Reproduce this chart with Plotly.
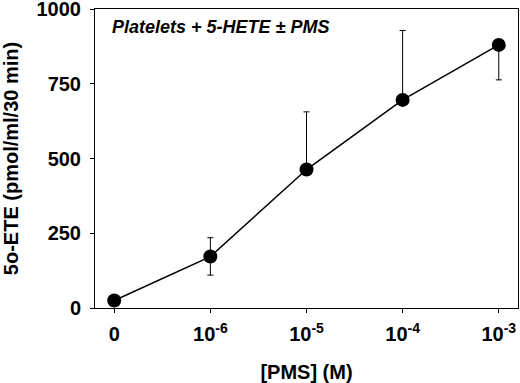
import plotly.graph_objects as go

categories = ["0", "1e-6", "1e-5", "1e-4", "1e-3"]
tick_labels = ["0", "10<sup>-6</sup>", "10<sup>-5</sup>", "10<sup>-4</sup>", "10<sup>-3</sup>"]
values = [25, 172, 463, 696, 880]
err_plus = [0, 63, 193, 232, 0]
err_minus = [0, 62, 0, 0, 117]
y_ticks = [0, 250, 500, 750, 1000]

x_pos = list(range(len(categories)))
font = "Liberation Sans, Arial, sans-serif"

fig = go.Figure()
fig.add_trace(go.Scatter(
    x=x_pos, y=values, mode="lines+markers",
    line=dict(color="black", width=1.5),
    marker=dict(color="black", size=14),
    error_y=dict(type="data", array=err_plus, arrayminus=err_minus,
                 symmetric=False, color="black", thickness=1, width=3),
    showlegend=False,
))

fig.update_layout(
    width=520, height=383,
    margin=dict(l=95, r=2, t=9, b=75, autoexpand=False),
    plot_bgcolor="white", paper_bgcolor="white",
    font=dict(family=font, color="black"),
    xaxis=dict(
        range=[-0.2, 4.2], tickmode="array", tickvals=x_pos, ticktext=tick_labels,
        showgrid=False, zeroline=False, showline=True, linecolor="black", linewidth=1,
        mirror=True, ticks="outside", ticklen=4, tickcolor="black",
        tickfont=dict(size=20, family=font, weight="bold"),
        ticklabeloverflow="allow", automargin=False, ticklabelstandoff=4,
        title=dict(text="<b>[PMS] (M)</b>", font=dict(size=20, family=font), standoff=22),
    ),
    yaxis=dict(
        range=[0, 1000], tickmode="array", tickvals=y_ticks,
        showgrid=False, zeroline=False, showline=True, linecolor="black", linewidth=1,
        mirror=True, ticks="outside", ticklen=4, tickcolor="black",
        tickfont=dict(size=20, family=font, weight="bold"),
        ticklabeloverflow="allow", automargin=False, ticklabelstandoff=5,
        title=dict(text="<b>5o-ETE (pmol/ml/30 min)</b>", font=dict(size=20, family=font), standoff=16),
    ),
    annotations=[dict(
        text="<b><i>Platelets + 5-HETE ± PMS</i></b>", x=0.035, y=0.98,
        xref="paper", yref="paper", xanchor="left", yanchor="top",
        showarrow=False, font=dict(size=18, family=font, color="black"),
    )],
)

fig.write_html("out.html", config={"displayModeBar": False},
               post_script="document.body.style.margin='0';")
